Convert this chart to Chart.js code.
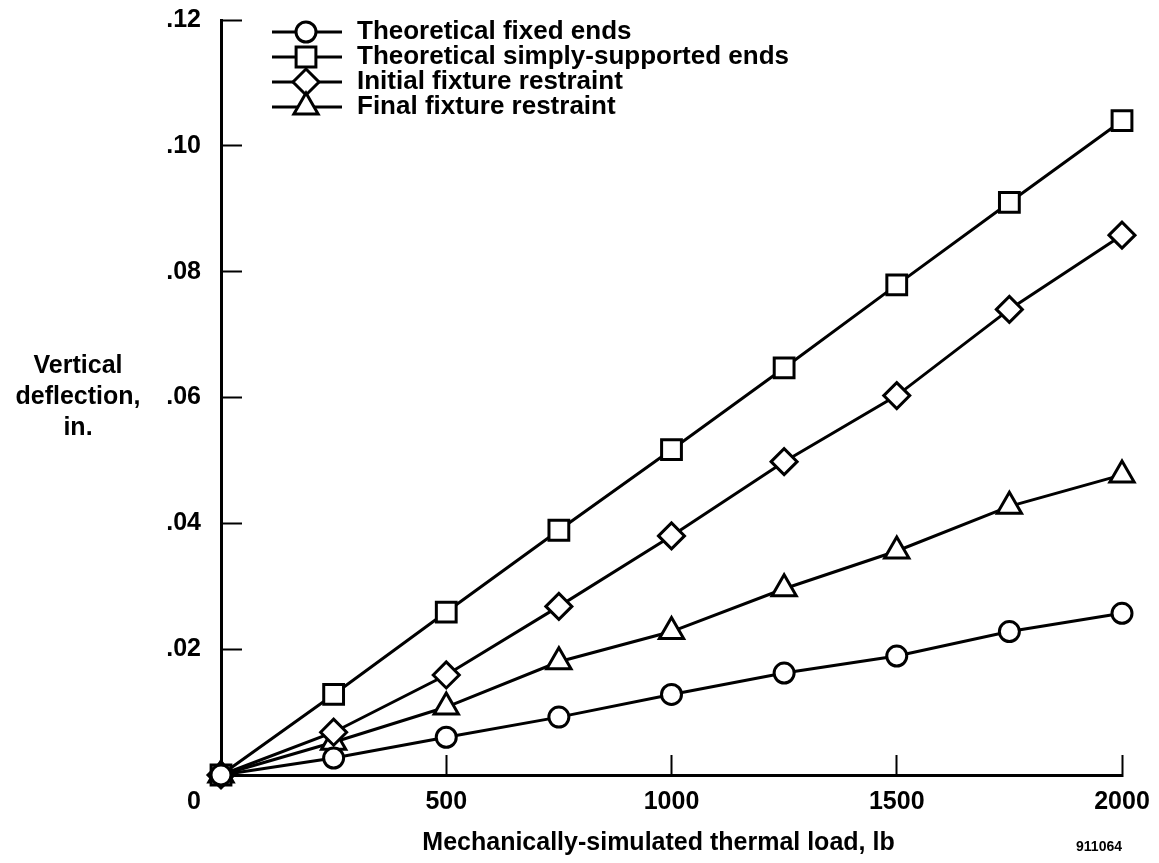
<!DOCTYPE html>
<html><head><meta charset="utf-8">
<script src="https://cdn.jsdelivr.net/npm/chart.js@4.4.1/dist/chart.umd.min.js"></script>
<style>html,body{margin:0;padding:0;background:#fff;} canvas{display:block;}</style>
</head><body>
<canvas id="c" width="1159" height="863"></canvas>
<script>
// ---- data ----
const loads = [0, 250, 500, 750, 1000, 1250, 1500, 1750, 2000];
const fixedEnds        = [0, 0.0027, 0.0060, 0.0092, 0.0128, 0.0162, 0.0189, 0.0228, 0.0257];
const simplySupported  = [0, 0.0128, 0.0259, 0.0389, 0.0517, 0.0647, 0.0779, 0.0910, 0.1040];
const initialRestraint = [0, 0.0068, 0.0159, 0.0268, 0.0380, 0.0498, 0.0603, 0.0740, 0.0858];
const finalRestraint   = [0, 0.0052, 0.0108, 0.0180, 0.0228, 0.0296, 0.0356, 0.0427, 0.0477];
const seriesNames = ['Theoretical fixed ends', 'Theoretical simply-supported ends', 'Initial fixture restraint', 'Final fixture restraint'];
const xTickValues = [0, 500, 1000, 1500, 2000];
const yTickValues = [0, 0.02, 0.04, 0.06, 0.08, 0.10, 0.12];
const yTitleLines = ['Vertical', 'deflection,', 'in.'];
const xTitle = 'Mechanically-simulated thermal load, lb';
const figureNumber = '911064';

// ---- styles ----
const FONT = '"Liberation Sans", Arial, Helvetica, sans-serif';
const markerStyles = ['circle', 'rect', 'rectRot', 'triangle'];
const markerRadii = [10, 14, 13, 14];
const seriesData = [fixedEnds, simplySupported, initialRestraint, finalRestraint];

function drawMarker(ctx, style, r, x, y) {
  ctx.beginPath();
  if (style === 'circle') {
    ctx.arc(x, y, r, 0, Math.PI * 2);
  } else if (style === 'rect') {
    const s = r * Math.SQRT1_2;
    ctx.rect(x - s, y - s, 2 * s, 2 * s);
  } else if (style === 'rectRot') {
    ctx.moveTo(x, y - r); ctx.lineTo(x + r, y); ctx.lineTo(x, y + r); ctx.lineTo(x - r, y); ctx.closePath();
  } else if (style === 'triangle') {
    const a = 2 * Math.PI / 3;
    ctx.moveTo(x, y - r);
    ctx.lineTo(x + Math.sin(a) * r, y - Math.cos(a) * r);
    ctx.lineTo(x + Math.sin(2 * a) * r, y - Math.cos(2 * a) * r);
    ctx.closePath();
  }
  ctx.fillStyle = '#fff'; ctx.fill();
  ctx.lineWidth = 3; ctx.strokeStyle = '#000'; ctx.stroke();
}

function legendImage(i) {
  const c = document.createElement('canvas');
  c.width = 124; c.height = 34;
  const g = c.getContext('2d');
  g.strokeStyle = '#000'; g.lineWidth = 3;
  g.beginPath(); g.moveTo(52, 17); g.lineTo(122, 17); g.stroke();
  drawMarker(g, markerStyles[i], markerRadii[i], 86, 17);
  return c;
}

const extraText = {
  id: 'extraText',
  afterLayout(chart) {
    // keep the legend inside the plot area, starting at its top edge
    if (chart.legend) {
      const l = chart.legend;
      const h = l.bottom - l.top;
      l.top = chart.chartArea.top;
      l.bottom = l.top + h;
    }
  },
  afterDraw(chart) {
    const { ctx, chartArea, scales } = chart;
    ctx.save();
    ctx.fillStyle = '#000';
    ctx.font = 'bold 25px ' + FONT;
    ctx.textAlign = 'center'; ctx.textBaseline = 'middle';
    const yMid = scales.y.getPixelForValue(0.06);
    yTitleLines.forEach((t, i) => ctx.fillText(t, 78, yMid + (i - 1) * 31));
    ctx.fillText(xTitle, (chartArea.left + chartArea.right) / 2 - 13, chartArea.bottom + 68);
    ctx.textAlign = 'right';
    ctx.fillText('0', chartArea.left - 20, chartArea.bottom + 27);
    ctx.font = 'bold 14px ' + FONT;
    ctx.fillText(figureNumber, chartArea.right, chartArea.bottom + 72);
    ctx.restore();
  }
};

const datasets = seriesNames.map((name, i) => ({
  label: name,
  data: loads.map((x, k) => ({ x, y: seriesData[i][k] })),
  borderColor: '#000',
  borderWidth: 3,
  backgroundColor: '#fff',
  pointStyle: markerStyles[i],
  pointRadius: markerRadii[i],
  pointBorderWidth: 3,
  pointBackgroundColor: '#fff',
  pointBorderColor: '#000',
  tension: 0,
  clip: false
}));

function noPad(s) { s.paddingLeft = 0; s.paddingRight = 0; s.paddingTop = 0; s.paddingBottom = 0; }

new Chart(document.getElementById('c'), {
  type: 'line',
  data: { datasets },
  plugins: [extraText],
  options: {
    responsive: false,
    animation: false,
    layout: { padding: { left: 0, right: 37, top: 20, bottom: 0 } },
    plugins: {
      tooltip: { enabled: false },
      legend: {
        position: 'chartArea',
        align: 'start',
        labels: {
          usePointStyle: true,
          pointStyleWidth: 124,
          padding: -1,
          color: '#000',
          font: { family: FONT, size: 26, weight: 'bold' },
          generateLabels: (chart) => seriesNames.map((n, i) => ({
            text: n, pointStyle: legendImage(i), datasetIndex: i,
            fillStyle: '#fff', strokeStyle: '#000', lineWidth: 0, hidden: false, fontColor: '#000'
          }))
        }
      }
    },
    scales: {
      x: {
        type: 'linear',
        min: 0, max: 2000,
        afterBuildTicks: (s) => { s.ticks = xTickValues.map(v => ({ value: v })); },
        afterFit: (s) => { s.height = 88; noPad(s); },
        border: { display: true, color: '#000', width: 3 },
        grid: { drawOnChartArea: false, drawTicks: true, tickLength: -20, tickWidth: 2, tickColor: '#000' },
        ticks: {
          padding: 32,
          color: '#000',
          font: { family: FONT, size: 25, weight: 'bold' },
          callback: (v) => v === 0 ? '' : String(v),
          maxRotation: 0, autoSkip: false
        }
      },
      y: {
        type: 'linear',
        min: 0, max: 0.12,
        afterBuildTicks: (s) => { s.ticks = yTickValues.map(v => ({ value: v })); },
        afterFit: (s) => { s.width = 221; noPad(s); },
        border: { display: true, color: '#000', width: 3 },
        grid: { drawOnChartArea: false, drawTicks: true, tickLength: -21, tickWidth: 2, tickColor: '#000' },
        ticks: {
          padding: 41,
          color: '#000',
          font: { family: FONT, size: 25, weight: 'bold' },
          callback: (v) => v === 0 ? '' : v.toFixed(2).replace(/^0/, ''),
          autoSkip: false
        }
      }
    }
  }
});
</script>
</body></html>
